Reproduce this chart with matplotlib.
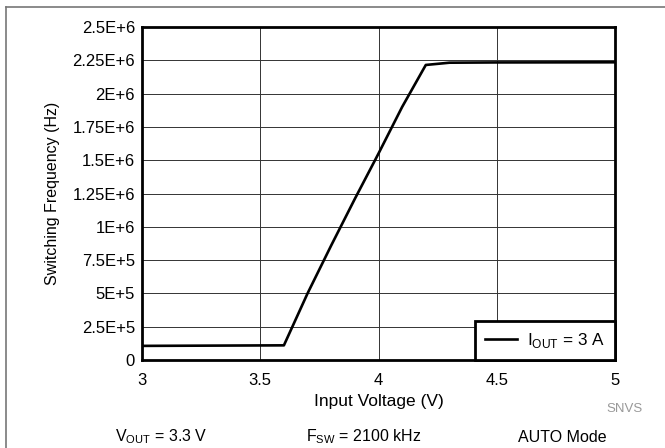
import numpy as np
import matplotlib.pyplot as plt
from matplotlib.lines import Line2D

# input voltage (V) vs switching frequency (Hz)
vin = [3.0, 3.3, 3.6, 3.7, 3.8, 3.9, 4.0, 4.1, 4.2, 4.3, 4.5, 5.0]
fsw = [1.06e5, 1.08e5, 1.10e5, 5.0e5, 8.6e5, 1.21e6, 1.55e6, 1.90e6,
       2.215e6, 2.232e6, 2.234e6, 2.235e6]

xticks = [3, 3.5, 4, 4.5, 5]
xtick_labels = ['3', '3.5', '4', '4.5', '5']
yticks = [0, 2.5e5, 5e5, 7.5e5, 1e6, 1.25e6, 1.5e6, 1.75e6, 2e6, 2.25e6, 2.5e6]
ytick_labels = ['0', '2.5E+5', '5E+5', '7.5E+5', '1E+6', '1.25E+6', '1.5E+6',
                '1.75E+6', '2E+6', '2.25E+6', '2.5E+6']

plt.rcParams['font.family'] = ['Liberation Sans', 'DejaVu Sans']

fig = plt.figure(figsize=(6.65, 4.48), dpi=100, facecolor='white')
W, H = 665, 448
ax = fig.add_axes([142 / W, 1 - 360 / H, (615 - 142) / W, (360 - 27) / H])

ax.plot(vin, fsw, color='black', lw=1.9, zorder=3)

ax.set_xlim(3, 5)
ax.set_ylim(0, 2.5e6)
ax.set_xticks(xticks)
ax.set_xticklabels(xtick_labels)
ax.set_yticks(yticks)
ax.set_yticklabels(ytick_labels)
ax.tick_params(length=0, labelsize=12)
ax.tick_params(axis='x', pad=9.5)
ax.tick_params(axis='y', pad=5)
ax.grid(True, color='#333333', lw=0.7)
for s in ax.spines.values():
    s.set_linewidth(2)

ax.set_xlabel('Input Voltage (V)', fontsize=12.5, labelpad=4)
ax.set_ylabel('Switching Frequency (Hz)', fontsize=11.5, labelpad=9)

h = Line2D([], [], color='black', lw=1.9)
leg = ax.legend([h], [r'I$_{\mathregular{OUT}}$ = 3 A'], loc='lower right',
                fontsize=12.3, frameon=True, fancybox=False, borderaxespad=0,
                handlelength=1.9, borderpad=0.6, handletextpad=0.55)
leg.get_frame().set_edgecolor('black')
leg.get_frame().set_linewidth(2)
leg.get_frame().set_alpha(1)

# outer frame lines
fig.add_artist(Line2D([6 / W, 6 / W], [0, 1 - 7 / H], color='#777777', lw=1.2))
fig.add_artist(Line2D([6 / W, 1], [1 - 7 / H, 1 - 7 / H], color='#777777', lw=1.2))

fig.text(625 / W, 1 - 409 / H, 'SNVS', color='#999999', fontsize=9.5,
         ha='center', va='center')
fig.text(161 / W, 1 - 437 / H, r'V$_{\mathregular{OUT}}$ = 3.3 V', fontsize=11.5,
         ha='center', va='center')
fig.text(364 / W, 1 - 437 / H, r'F$_{\mathregular{SW}}$ = 2100 kHz', fontsize=11.5,
         ha='center', va='center')
fig.text(562 / W, 1 - 437 / H, 'AUTO Mode', fontsize=11.5, ha='center', va='center')

fig.savefig('out.png', dpi=100, facecolor='white')
